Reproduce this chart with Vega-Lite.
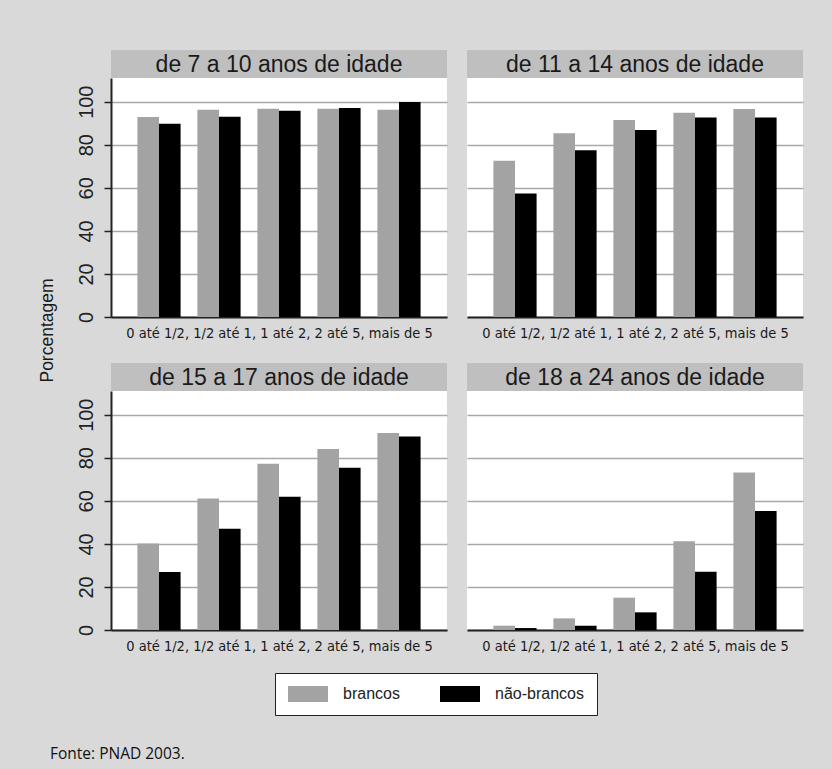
{
  "$schema": "https://vega.github.io/schema/vega-lite/v6.json",
  "background": "#d9d9d9",
  "padding": {"left": 38, "top": 50, "right": 29, "bottom": 12},
  "datasets": {
    "dados": [
      {"faixa": "de 7 a 10 anos de idade", "renda": "0 até 1/2", "grupo": "brancos", "pct": 92.9},
      {"faixa": "de 7 a 10 anos de idade", "renda": "0 até 1/2", "grupo": "não-brancos", "pct": 89.8},
      {"faixa": "de 7 a 10 anos de idade", "renda": "1/2 até 1", "grupo": "brancos", "pct": 96.3},
      {"faixa": "de 7 a 10 anos de idade", "renda": "1/2 até 1", "grupo": "não-brancos", "pct": 93.0},
      {"faixa": "de 7 a 10 anos de idade", "renda": "1 até 2", "grupo": "brancos", "pct": 96.7},
      {"faixa": "de 7 a 10 anos de idade", "renda": "1 até 2", "grupo": "não-brancos", "pct": 95.8},
      {"faixa": "de 7 a 10 anos de idade", "renda": "2 até 5", "grupo": "brancos", "pct": 96.7},
      {"faixa": "de 7 a 10 anos de idade", "renda": "2 até 5", "grupo": "não-brancos", "pct": 97.1},
      {"faixa": "de 7 a 10 anos de idade", "renda": "mais de 5", "grupo": "brancos", "pct": 96.3},
      {"faixa": "de 7 a 10 anos de idade", "renda": "mais de 5", "grupo": "não-brancos", "pct": 99.8},
      {"faixa": "de 11 a 14 anos de idade", "renda": "0 até 1/2", "grupo": "brancos", "pct": 72.6},
      {"faixa": "de 11 a 14 anos de idade", "renda": "0 até 1/2", "grupo": "não-brancos", "pct": 57.4},
      {"faixa": "de 11 a 14 anos de idade", "renda": "1/2 até 1", "grupo": "brancos", "pct": 85.3},
      {"faixa": "de 11 a 14 anos de idade", "renda": "1/2 até 1", "grupo": "não-brancos", "pct": 77.5},
      {"faixa": "de 11 a 14 anos de idade", "renda": "1 até 2", "grupo": "brancos", "pct": 91.5},
      {"faixa": "de 11 a 14 anos de idade", "renda": "1 até 2", "grupo": "não-brancos", "pct": 86.8},
      {"faixa": "de 11 a 14 anos de idade", "renda": "2 até 5", "grupo": "brancos", "pct": 94.9},
      {"faixa": "de 11 a 14 anos de idade", "renda": "2 até 5", "grupo": "não-brancos", "pct": 92.7},
      {"faixa": "de 11 a 14 anos de idade", "renda": "mais de 5", "grupo": "brancos", "pct": 96.6},
      {"faixa": "de 11 a 14 anos de idade", "renda": "mais de 5", "grupo": "não-brancos", "pct": 92.7},
      {"faixa": "de 15 a 17 anos de idade", "renda": "0 até 1/2", "grupo": "brancos", "pct": 40.2},
      {"faixa": "de 15 a 17 anos de idade", "renda": "0 até 1/2", "grupo": "não-brancos", "pct": 26.9},
      {"faixa": "de 15 a 17 anos de idade", "renda": "1/2 até 1", "grupo": "brancos", "pct": 61.1},
      {"faixa": "de 15 a 17 anos de idade", "renda": "1/2 até 1", "grupo": "não-brancos", "pct": 47.0},
      {"faixa": "de 15 a 17 anos de idade", "renda": "1 até 2", "grupo": "brancos", "pct": 77.2},
      {"faixa": "de 15 a 17 anos de idade", "renda": "1 até 2", "grupo": "não-brancos", "pct": 61.9},
      {"faixa": "de 15 a 17 anos de idade", "renda": "2 até 5", "grupo": "brancos", "pct": 84.1},
      {"faixa": "de 15 a 17 anos de idade", "renda": "2 até 5", "grupo": "não-brancos", "pct": 75.4},
      {"faixa": "de 15 a 17 anos de idade", "renda": "mais de 5", "grupo": "brancos", "pct": 91.5},
      {"faixa": "de 15 a 17 anos de idade", "renda": "mais de 5", "grupo": "não-brancos", "pct": 89.9},
      {"faixa": "de 18 a 24 anos de idade", "renda": "0 até 1/2", "grupo": "brancos", "pct": 2.0},
      {"faixa": "de 18 a 24 anos de idade", "renda": "0 até 1/2", "grupo": "não-brancos", "pct": 0.9},
      {"faixa": "de 18 a 24 anos de idade", "renda": "1/2 até 1", "grupo": "brancos", "pct": 5.4},
      {"faixa": "de 18 a 24 anos de idade", "renda": "1/2 até 1", "grupo": "não-brancos", "pct": 2.0},
      {"faixa": "de 18 a 24 anos de idade", "renda": "1 até 2", "grupo": "brancos", "pct": 15.0},
      {"faixa": "de 18 a 24 anos de idade", "renda": "1 até 2", "grupo": "não-brancos", "pct": 8.2},
      {"faixa": "de 18 a 24 anos de idade", "renda": "2 até 5", "grupo": "brancos", "pct": 41.2},
      {"faixa": "de 18 a 24 anos de idade", "renda": "2 até 5", "grupo": "não-brancos", "pct": 27.1},
      {"faixa": "de 18 a 24 anos de idade", "renda": "mais de 5", "grupo": "brancos", "pct": 73.2},
      {"faixa": "de 18 a 24 anos de idade", "renda": "mais de 5", "grupo": "não-brancos", "pct": 55.3}
    ]
  },
  "config": {
    "view": {"stroke": null},
    "font": "Liberation Sans",
    "axis": {
      "gridColor": "#a9a9a9",
      "gridWidth": 1.5,
      "domainColor": "#222222",
      "domainWidth": 2,
      "tickColor": "#222222",
      "labelColor": "#222222",
      "titleColor": "#1a1a1a",
      "titleFontWeight": "normal"
    },
    "title": {"fontWeight": "normal"}
  },
  "title": {
    "text": "Fonte: PNAD 2003.",
    "orient": "bottom",
    "anchor": "start",
    "frame": "bounds",
    "font": "Open Sans",
    "fontSize": 15.5,
    "fontWeight": "normal",
    "color": "#111111",
    "offset": 31,
    "dx": 12
  },
  "bounds": "flush",
  "columns": 2,
  "spacing": {"row": 0, "column": 20},
  "concat": [
    {
      "data": {"values": [{"faixa": "de 7 a 10 anos de idade"}]},
      "width": 336, "height": 28,
      "view": {"fill": "#bfbfbf", "stroke": null},
      "mark": {"type": "text", "fontSize": 23, "color": "#1a1a1a", "baseline": "middle", "dy": 1},
      "encoding": {"text": {"field": "faixa"}}
    },
    {
      "data": {"values": [{"faixa": "de 11 a 14 anos de idade"}]},
      "width": 336, "height": 28,
      "view": {"fill": "#bfbfbf", "stroke": null},
      "mark": {"type": "text", "fontSize": 23, "color": "#1a1a1a", "baseline": "middle", "dy": 1},
      "encoding": {"text": {"field": "faixa"}}
    },
    {
      "data": {"name": "dados"},
      "transform": [{"filter": "datum.faixa == 'de 7 a 10 anos de idade'"}],
      "width": 336, "height": 239,
      "view": {"fill": "white", "stroke": null},
      "mark": {"type": "bar"},
      "encoding": {
        "x": {"field": "renda", "type": "nominal", "sort": ["0 até 1/2", "1/2 até 1", "1 até 2", "2 até 5", "mais de 5"],
          "scale": {"paddingInner": 0.28, "paddingOuter": 0.44},
          "axis": {"title": "0 até 1/2, 1/2 até 1, 1 até 2, 2 até 5, mais de 5", "labels": false, "ticks": false, "titleFont": "DejaVu Sans Condensed, Liberation Sans", "titleFontSize": 14.5, "titlePadding": 9}},
        "xOffset": {"field": "grupo", "type": "nominal", "sort": ["brancos", "não-brancos"], "scale": {"paddingInner": 0, "paddingOuter": 0}},
        "y": {"field": "pct", "type": "quantitative", "scale": {"domain": [0, 111], "nice": false},
          "axis": {"values": [0, 20, 40, 60, 80, 100], "title": "Porcentagem", "titleX": -59, "titleY": 252, "titleAngle": -90, "titleAlign": "center", "titleBaseline": "alphabetic", "titleFontSize": 17.5,
            "labelAngle": -90, "labelAlign": "center", "labelBaseline": "alphabetic", "labelFontSize": 20, "labelPadding": 12, "tickSize": 7, "tickWidth": 1.5, "grid": true}},
        "color": {"field": "grupo", "type": "nominal", "scale": {"domain": ["brancos", "não-brancos"], "range": ["#a3a3a3", "#000000"]},
          "legend": {"title": null, "orient": "none", "legendX": 164, "legendY": 623, "direction": "horizontal", "symbolType": "M-1,-1H4V1H-1Z", "symbolSize": 256, "symbolStrokeWidth": 0, "labelFontSize": 16, "labelColor": "#222222", "labelOffset": 39, "columnPadding": 40, "padding": 13, "strokeColor": "#222222", "fillColor": "#ffffff"}}
      }
    },
    {
      "data": {"name": "dados"},
      "transform": [{"filter": "datum.faixa == 'de 11 a 14 anos de idade'"}],
      "width": 336, "height": 239,
      "view": {"fill": "white", "stroke": null},
      "mark": {"type": "bar"},
      "encoding": {
        "x": {"field": "renda", "type": "nominal", "sort": ["0 até 1/2", "1/2 até 1", "1 até 2", "2 até 5", "mais de 5"],
          "scale": {"paddingInner": 0.28, "paddingOuter": 0.44},
          "axis": {"title": "0 até 1/2, 1/2 até 1, 1 até 2, 2 até 5, mais de 5", "labels": false, "ticks": false, "titleFont": "DejaVu Sans Condensed, Liberation Sans", "titleFontSize": 14.5, "titlePadding": 9}},
        "xOffset": {"field": "grupo", "type": "nominal", "sort": ["brancos", "não-brancos"], "scale": {"paddingInner": 0, "paddingOuter": 0}},
        "y": {"field": "pct", "type": "quantitative", "scale": {"domain": [0, 111], "nice": false},
          "axis": {"values": [0, 20, 40, 60, 80, 100], "title": null, "labels": false, "ticks": false, "domain": false, "grid": true}},
        "color": {"field": "grupo", "type": "nominal", "scale": {"domain": ["brancos", "não-brancos"], "range": ["#a3a3a3", "#000000"]},
          "legend": {"title": null, "orient": "none", "legendX": 164, "legendY": 623, "direction": "horizontal", "symbolType": "M-1,-1H4V1H-1Z", "symbolSize": 256, "symbolStrokeWidth": 0, "labelFontSize": 16, "labelColor": "#222222", "labelOffset": 39, "columnPadding": 40, "padding": 13, "strokeColor": "#222222", "fillColor": "#ffffff"}}
      }
    },
    {
      "data": {"values": [{"faixa": ""}]},
      "width": 336, "height": 46,
      "view": {"fill": null, "stroke": null},
      "mark": {"type": "text"},
      "encoding": {"text": {"field": "faixa"}}
    },
    {
      "data": {"values": [{"faixa": ""}]},
      "width": 336, "height": 46,
      "view": {"fill": null, "stroke": null},
      "mark": {"type": "text"},
      "encoding": {"text": {"field": "faixa"}}
    },
    {
      "data": {"values": [{"faixa": "de 15 a 17 anos de idade"}]},
      "width": 336, "height": 28,
      "view": {"fill": "#bfbfbf", "stroke": null},
      "mark": {"type": "text", "fontSize": 23, "color": "#1a1a1a", "baseline": "middle", "dy": 1},
      "encoding": {"text": {"field": "faixa"}}
    },
    {
      "data": {"values": [{"faixa": "de 18 a 24 anos de idade"}]},
      "width": 336, "height": 28,
      "view": {"fill": "#bfbfbf", "stroke": null},
      "mark": {"type": "text", "fontSize": 23, "color": "#1a1a1a", "baseline": "middle", "dy": 1},
      "encoding": {"text": {"field": "faixa"}}
    },
    {
      "data": {"name": "dados"},
      "transform": [{"filter": "datum.faixa == 'de 15 a 17 anos de idade'"}],
      "width": 336, "height": 239,
      "view": {"fill": "white", "stroke": null},
      "mark": {"type": "bar"},
      "encoding": {
        "x": {"field": "renda", "type": "nominal", "sort": ["0 até 1/2", "1/2 até 1", "1 até 2", "2 até 5", "mais de 5"],
          "scale": {"paddingInner": 0.28, "paddingOuter": 0.44},
          "axis": {"title": "0 até 1/2, 1/2 até 1, 1 até 2, 2 até 5, mais de 5", "labels": false, "ticks": false, "titleFont": "DejaVu Sans Condensed, Liberation Sans", "titleFontSize": 14.5, "titlePadding": 9}},
        "xOffset": {"field": "grupo", "type": "nominal", "sort": ["brancos", "não-brancos"], "scale": {"paddingInner": 0, "paddingOuter": 0}},
        "y": {"field": "pct", "type": "quantitative", "scale": {"domain": [0, 111], "nice": false},
          "axis": {"values": [0, 20, 40, 60, 80, 100], "title": null,
            "labelAngle": -90, "labelAlign": "center", "labelBaseline": "alphabetic", "labelFontSize": 20, "labelPadding": 12, "tickSize": 7, "tickWidth": 1.5, "grid": true}},
        "color": {"field": "grupo", "type": "nominal", "scale": {"domain": ["brancos", "não-brancos"], "range": ["#a3a3a3", "#000000"]},
          "legend": {"title": null, "orient": "none", "legendX": 164, "legendY": 623, "direction": "horizontal", "symbolType": "M-1,-1H4V1H-1Z", "symbolSize": 256, "symbolStrokeWidth": 0, "labelFontSize": 16, "labelColor": "#222222", "labelOffset": 39, "columnPadding": 40, "padding": 13, "strokeColor": "#222222", "fillColor": "#ffffff"}}
      }
    },
    {
      "data": {"name": "dados"},
      "transform": [{"filter": "datum.faixa == 'de 18 a 24 anos de idade'"}],
      "width": 336, "height": 239,
      "view": {"fill": "white", "stroke": null},
      "mark": {"type": "bar"},
      "encoding": {
        "x": {"field": "renda", "type": "nominal", "sort": ["0 até 1/2", "1/2 até 1", "1 até 2", "2 até 5", "mais de 5"],
          "scale": {"paddingInner": 0.28, "paddingOuter": 0.44},
          "axis": {"title": "0 até 1/2, 1/2 até 1, 1 até 2, 2 até 5, mais de 5", "labels": false, "ticks": false, "titleFont": "DejaVu Sans Condensed, Liberation Sans", "titleFontSize": 14.5, "titlePadding": 9}},
        "xOffset": {"field": "grupo", "type": "nominal", "sort": ["brancos", "não-brancos"], "scale": {"paddingInner": 0, "paddingOuter": 0}},
        "y": {"field": "pct", "type": "quantitative", "scale": {"domain": [0, 111], "nice": false},
          "axis": {"values": [0, 20, 40, 60, 80, 100], "title": null, "labels": false, "ticks": false, "domain": false, "grid": true}},
        "color": {"field": "grupo", "type": "nominal", "scale": {"domain": ["brancos", "não-brancos"], "range": ["#a3a3a3", "#000000"]},
          "legend": {"title": null, "orient": "none", "legendX": 164, "legendY": 623, "direction": "horizontal", "symbolType": "M-1,-1H4V1H-1Z", "symbolSize": 256, "symbolStrokeWidth": 0, "labelFontSize": 16, "labelColor": "#222222", "labelOffset": 39, "columnPadding": 40, "padding": 13, "strokeColor": "#222222", "fillColor": "#ffffff"}}
      }
    }
  ]
}
